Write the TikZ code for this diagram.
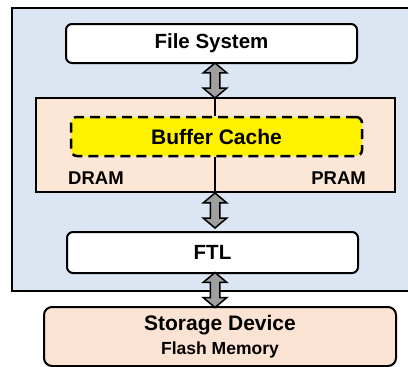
\documentclass[tikz,border=0pt]{standalone}
\usepackage{fontspec}
\setmainfont{Liberation Sans}
\usepackage{tikz}
\usetikzlibrary{calc, positioning, shapes.arrows}
\definecolor{osblue}{RGB}{220,230,242}
\definecolor{mempink}{RGB}{252,230,214}
\definecolor{devpeach}{RGB}{251,227,211}
\tikzstyle{blk}=[draw, shape=rectangle, line width=2pt, inner sep=0pt, font=\bfseries]
\tikzstyle{rbox}=[blk, fill=white, rounded corners=6pt, minimum width=291pt]
\tikzstyle{dbl}=[draw, fill=gray!75, line width=1.5pt, shape=double arrow, rotate=90, inner sep=0pt,
  text height=4pt, text depth=4pt, text width=0pt,
  minimum height=35pt, minimum width=22pt, double arrow head extend=7pt, double arrow tip angle=100]
\tikzstyle{lbl}=[inner sep=0pt, font=\bfseries\fontsize{18.5}{20}\selectfont]
\tikzset{>=stealth}

\begin{document}
\begin{tikzpicture}[x=1pt, y=-1pt]
\useasboundingbox (0,0) rectangle (408,367);
\node[blk, fill=osblue, minimum width=420pt, minimum height=283pt] (OS) at (222,149.5) {};
\node[rbox, minimum height=39pt, font=\bfseries\fontsize{20.5}{24}\selectfont] (FS) at (211.5,43.5) {File System};
\node[blk, fill=mempink, line width=1.5pt, minimum width=359pt, minimum height=94pt] (PR) at (215.5,145) {};
\node[blk, fill=yellow, rounded corners=6pt, line width=2.5pt, dash pattern=on 10pt off 6pt,
  minimum width=291pt, minimum height=39pt, font=\bfseries\fontsize{21}{24}\selectfont] (BC) at (216.5,136.5) {Buffer Cache};
\node[lbl, anchor=west] (DR) at (68,178) {DRAM};
\node[lbl, anchor=east] (PM) at (366,178) {PRAM};
\node[rbox, minimum height=41pt, font=\bfseries\fontsize{20.5}{24}\selectfont] (FTL) at (212.5,252.5) {FTL};
\node[blk, fill=devpeach, rounded corners=8pt, minimum width=352pt, minimum height=59pt, align=center]
  (SD) at (220,336.5) {\fontsize{21}{24}\selectfont Storage Device\\[6pt]\fontsize{17.5}{20}\selectfont Flash Memory};

\node[dbl] (A1) at (215,80.5) {};
\node[dbl] (A2) at (215,210.5) {};
\node[dbl] (A3) at (215,290) {};

\draw[line width=1.5pt] (A1 |- PR.north) -- (A1 |- BC.north);
\draw[line width=1.5pt] (A2 |- BC.south) -- (A2 |- PR.south);
\end{tikzpicture}
\end{document}
